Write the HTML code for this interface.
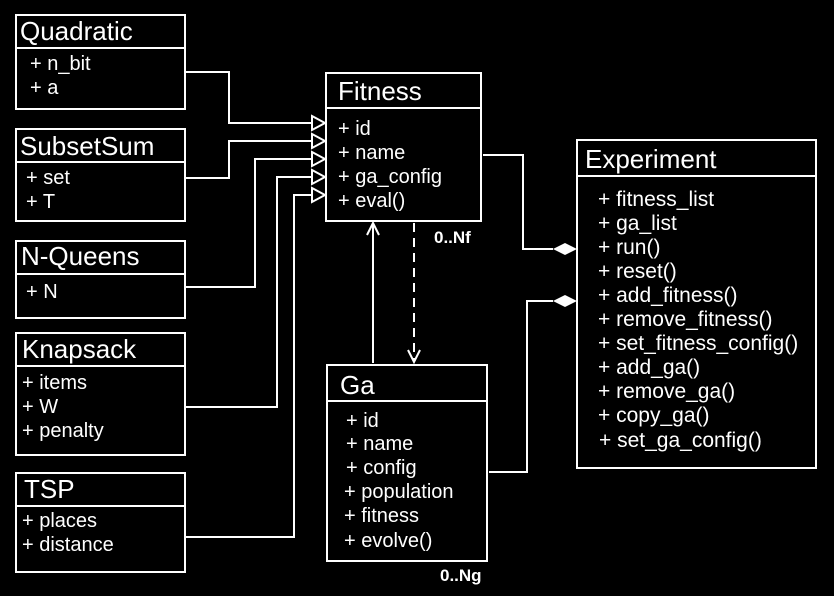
<!DOCTYPE html>
<html><head><meta charset="utf-8"><style>
html,body{margin:0;padding:0;background:#000;width:834px;height:596px;overflow:hidden}
text{font-family:"Liberation Sans",Arial,sans-serif;fill:#fff}
.t{font-size:26px}.a{font-size:20px}.e{font-size:21px}.b{font-size:17px;font-weight:bold}
</style></head><body>
<svg width="834" height="596" xmlns="http://www.w3.org/2000/svg">
<g fill="none" stroke="#fff" stroke-width="2">
<rect x="16" y="15" width="169" height="94"/><line x1="16" y1="48" x2="185" y2="48"/>
<rect x="16" y="129" width="169" height="92"/><line x1="16" y1="162" x2="185" y2="162"/>
<rect x="16" y="241" width="169" height="77"/><line x1="16" y1="274" x2="185" y2="274"/>
<rect x="16" y="333" width="169" height="122"/><line x1="16" y1="366" x2="185" y2="366"/>
<rect x="16" y="473" width="169" height="99"/><line x1="16" y1="506" x2="185" y2="506"/>
<rect x="326" y="73" width="155" height="148"/><line x1="326" y1="108" x2="481" y2="108"/>
<rect x="577" y="140" width="239" height="328"/><line x1="577" y1="176" x2="816" y2="176"/>
<rect x="327" y="365" width="160" height="196"/><line x1="327" y1="401" x2="487" y2="401"/>
<polyline points="185,72 229,72 229,123 312,123"/>
<polyline points="185,178 229,178 229,141 312,141"/>
<polyline points="185,287 255,287 255,159 312,159"/>
<polyline points="185,407 277,407 277,177 312,177"/>
<polyline points="185,537 294,537 294,195 312,195"/>
<polygon points="312,116 325,123 312,130"/>
<polygon points="312,134 325,141 312,148"/>
<polygon points="312,152 325,159 312,166"/>
<polygon points="312,170 325,177 312,184"/>
<polygon points="312,188 325,195 312,202"/>
<polyline points="483,155 523,155 523,249 553,249"/>
<polyline points="489,472 527,472 527,301 553,301"/>
<line x1="373" y1="363" x2="373" y2="223"/>
<polyline points="367,235 373,223 379,235"/>
<line x1="414" y1="223" x2="414" y2="362" stroke-dasharray="9,6"/>
<polyline points="408,350 414,362 420,350"/>
</g>
<polygon points="553,249 565,243 577,249 565,255" fill="#fff"/>
<polygon points="553,301 565,295 577,301 565,307" fill="#fff"/>
<text class="t" x="20" y="40">Quadratic</text>
<text class="a" x="30" y="70">+ n_bit</text><text class="a" x="30" y="94">+ a</text>
<text class="t" x="20" y="155">SubsetSum</text>
<text class="a" x="26" y="184">+ set</text><text class="a" x="26" y="208">+ T</text>
<text class="t" x="21" y="265">N-Queens</text>
<text class="a" x="26" y="298">+ N</text>
<text class="t" x="22" y="358">Knapsack</text>
<text class="a" x="22" y="389">+ items</text><text class="a" x="22" y="413">+ W</text><text class="a" x="22" y="437">+ penalty</text>
<text class="t" x="24" y="498">TSP</text>
<text class="a" x="22" y="527">+ places</text><text class="a" x="22" y="551">+ distance</text>
<text class="t" x="338" y="100">Fitness</text>
<text class="a" x="338" y="135">+ id</text><text class="a" x="338" y="159">+ name</text><text class="a" x="338" y="183">+ ga_config</text><text class="a" x="338" y="207">+ eval()</text>
<text class="b" x="434" y="243">0..Nf</text>
<text class="t" x="340" y="394">Ga</text>
<text class="a" x="346" y="427">+ id</text><text class="a" x="346" y="450">+ name</text><text class="a" x="346" y="474">+ config</text>
<text class="a" x="344" y="498">+ population</text><text class="a" x="344" y="522">+ fitness</text><text class="a" x="344" y="547">+ evolve()</text>
<text class="b" x="440" y="581">0..Ng</text>
<text class="t" x="585" y="168">Experiment</text>
<text class="e" x="598" y="206">+ fitness_list</text>
<text class="e" x="598" y="230">+ ga_list</text>
<text class="e" x="598" y="254">+ run()</text>
<text class="e" x="598" y="278">+ reset()</text>
<text class="e" x="598" y="302">+ add_fitness()</text>
<text class="e" x="598" y="326">+ remove_fitness()</text>
<text class="e" x="598" y="350">+ set_fitness_config()</text>
<text class="e" x="598" y="374">+ add_ga()</text>
<text class="e" x="598" y="398">+ remove_ga()</text>
<text class="e" x="598" y="422">+ copy_ga()</text>
<text class="e" x="599" y="447">+ set_ga_config()</text>
</svg>
</body></html>
